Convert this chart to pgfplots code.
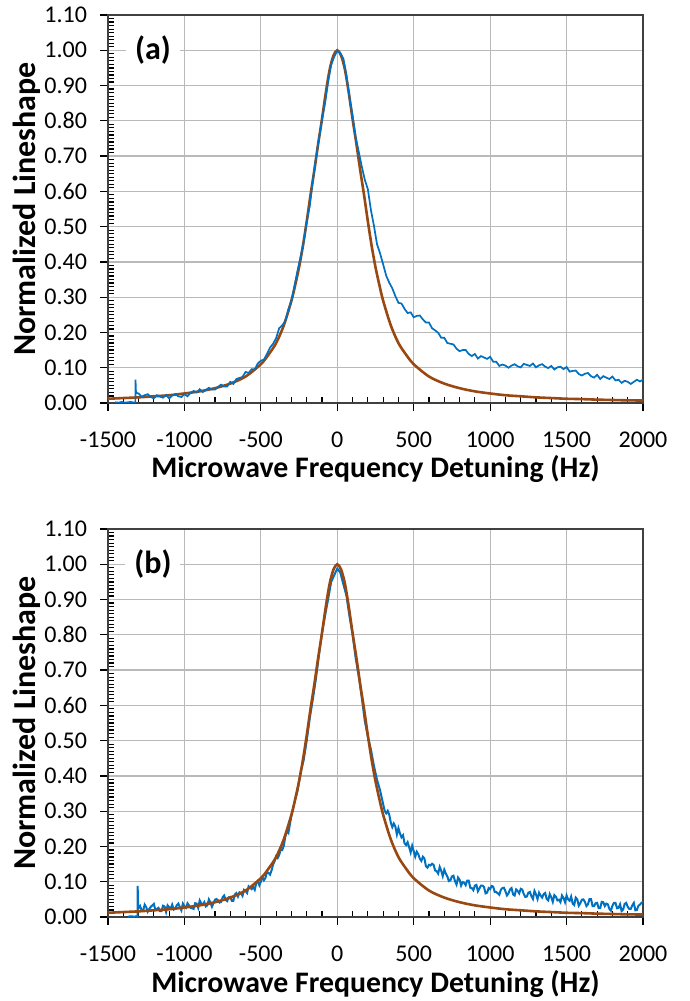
\documentclass[border=0pt]{standalone}
\usepackage{fontspec}
\setmainfont{Carlito}
\usepackage{pgfplots}
\pgfplotsset{compat=1.18}
\definecolor{dblue}{RGB}{0,112,192}
\definecolor{fitbrown}{RGB}{153,72,18}
\definecolor{gridgray}{RGB}{185,185,185}
\pgfplotsset{
 lsaxis/.style={
  scale only axis, width=267.5pt, height=194pt, anchor=south west,
  xmin=-1500, xmax=2000, ymin=0, ymax=1.1,
  xtick={-1500,-1000,-500,0,500,1000,1500,2000},
  ytick={0,0.1,0.2,0.3,0.4,0.5,0.6,0.7,0.8,0.9,1.0,1.1},
  minor x tick num=4, minor y tick num=9,
  grid=major, major grid style={gridgray, line width=0.6pt},
  tick align=outside, major tick length=4pt, minor tick length=3pt,
  xtick pos=bottom, ytick pos=left,
  minor x tick style={yshift=3pt}, minor y tick style={xshift=3pt},
  tick style={black, line width=0.6pt},
  axis line style={black!75, line width=0.8pt},
  /pgf/number format/assume math mode=true,
  ticklabel style={font=\fontsize{12}{14}\selectfont},
  xticklabel style={yshift=-7pt, /pgf/number format/.cd, 1000 sep={}},
  yticklabel style={xshift=-3pt, /pgf/number format/.cd, fixed, fixed zerofill, precision=2},
  xlabel={Microwave Frequency Detuning (Hz)},
  ylabel={Normalized Lineshape},
  xlabel style={at={(axis description cs:0.5,-0.1933)}, anchor=base, font=\fontsize{14.9}{17}\selectfont\bfseries},
  ylabel style={at={(axis description cs:-0.1364,0.5)}, anchor=base, font=\fontsize{16}{18}\selectfont\bfseries},
  clip=true,
 },
 bluedata/.style={dblue, line width=0.85pt, no markers},
 fitline/.style={fitbrown, line width=1.3pt, no markers, smooth, tension=0.5},
}
\pgfplotstableread{
x y
-1500 0.012
-1400 0.014
-1300 0.016
-1200 0.019
-1100 0.022
-1000 0.027
-900 0.033
-800 0.042
-700 0.055
-600 0.075
-500 0.11
-450 0.137
-400 0.17
-350 0.22
-300 0.29
-275 0.335
-250 0.385
-225 0.445
-200 0.515
-175 0.59
-150 0.66
-125 0.735
-100 0.805
-75 0.88
-50 0.945
-25 0.985
0 1.0
25 0.985
50 0.945
75 0.88
100 0.805
125 0.735
150 0.66
175 0.59
200 0.515
225 0.445
250 0.385
275 0.335
300 0.29
350 0.22
400 0.17
450 0.137
500 0.11
600 0.075
700 0.055
800 0.042
900 0.033
1000 0.027
1100 0.022
1200 0.019
1300 0.016
1400 0.014
1500 0.012
1600 0.011
1700 0.0095
1800 0.0085
1900 0.0075
2000 0.007
}\fittable
\pgfplotstableread{
x y
-1454 0.002
-1430 0.001
-1410 0.003
-1390 0.001
-1370 0.002
-1350 0.003
-1330 0.001
-1321 0.002
-1320 0.066
-1317 0.030
-1310 0.028
-1300 0.027
-1280 0.018
-1260 0.022
-1240 0.025
-1220 0.017
-1200 0.013
-1180 0.022
-1160 0.018
-1140 0.015
-1120 0.023
-1100 0.013
-1080 0.021
-1060 0.025
-1040 0.019
-1020 0.017
-1000 0.025
-980 0.019
-960 0.029
-940 0.034
-920 0.030
-900 0.039
-880 0.031
-860 0.037
-840 0.043
-820 0.038
-800 0.038
-780 0.046
-760 0.052
-740 0.047
-720 0.047
-700 0.060
-680 0.054
-660 0.068
-640 0.071
-620 0.074
-600 0.088
-580 0.085
-560 0.096
-540 0.095
-520 0.112
-500 0.120
-480 0.123
-460 0.139
-440 0.157
-420 0.168
-400 0.184
-380 0.212
-360 0.220
-340 0.232
-320 0.265
-300 0.290
-280 0.332
-260 0.376
-240 0.414
-220 0.456
-200 0.513
-180 0.559
-160 0.631
-140 0.694
-120 0.748
-100 0.805
-80 0.850
-60 0.910
-40 0.959
-20 0.982
0 0.998
20 0.992
40 0.976
60 0.929
80 0.866
100 0.815
120 0.754
140 0.713
160 0.671
180 0.633
200 0.606
220 0.547
240 0.502
260 0.450
280 0.424
300 0.393
320 0.361
340 0.341
360 0.325
380 0.303
400 0.284
420 0.282
440 0.267
460 0.255
480 0.257
500 0.243
520 0.247
540 0.248
560 0.237
580 0.228
600 0.228
620 0.212
640 0.206
660 0.199
680 0.185
700 0.185
720 0.170
740 0.168
760 0.166
780 0.154
800 0.147
820 0.150
840 0.150
860 0.139
880 0.133
900 0.139
920 0.126
940 0.133
960 0.129
980 0.125
1000 0.131
1020 0.117
1040 0.117
1060 0.105
1080 0.109
1100 0.106
1120 0.100
1140 0.106
1160 0.110
1180 0.104
1200 0.101
1220 0.111
1240 0.108
1260 0.105
1280 0.112
1300 0.101
1320 0.107
1340 0.110
1360 0.103
1380 0.099
1400 0.105
1420 0.095
1440 0.101
1460 0.103
1480 0.096
1500 0.102
1520 0.089
1540 0.091
1560 0.092
1580 0.082
1600 0.078
1620 0.083
1640 0.085
1660 0.076
1680 0.072
1700 0.080
1720 0.068
1740 0.076
1760 0.072
1780 0.068
1800 0.075
1820 0.064
1840 0.066
1860 0.057
1880 0.063
1900 0.060
1920 0.054
1940 0.060
1960 0.066
1980 0.061
2000 0.066
}\bluea
\pgfplotstableread{
x y
-1369 0.001
-1350 0.002
-1330 0.001
-1310 0.002
-1307 0.001
-1306 0.088
-1303 0.036
-1300 0.025
-1290 0.031
-1280 0.019
-1270 0.018
-1260 0.035
-1250 0.028
-1240 0.015
-1230 0.023
-1220 0.029
-1210 0.033
-1200 0.037
-1190 0.020
-1180 0.023
-1170 0.026
-1160 0.017
-1150 0.017
-1140 0.032
-1130 0.030
-1120 0.014
-1110 0.033
-1100 0.028
-1090 0.024
-1080 0.035
-1070 0.021
-1060 0.024
-1050 0.033
-1040 0.038
-1030 0.028
-1020 0.019
-1010 0.038
-1000 0.030
-990 0.026
-980 0.039
-970 0.033
-960 0.026
-950 0.025
-940 0.023
-930 0.039
-920 0.038
-910 0.026
-900 0.047
-890 0.039
-880 0.035
-870 0.042
-860 0.030
-850 0.033
-840 0.050
-830 0.041
-820 0.029
-810 0.039
-800 0.049
-790 0.051
-780 0.047
-770 0.041
-760 0.043
-750 0.056
-740 0.061
-730 0.048
-720 0.045
-710 0.056
-700 0.057
-690 0.046
-680 0.046
-670 0.064
-660 0.068
-650 0.058
-640 0.070
-630 0.068
-620 0.060
-610 0.077
-600 0.074
-590 0.068
-580 0.087
-570 0.083
-560 0.079
-550 0.085
-540 0.077
-530 0.096
-520 0.102
-510 0.090
-500 0.100
-490 0.113
-480 0.104
-470 0.111
-460 0.128
-450 0.125
-440 0.120
-430 0.132
-420 0.149
-410 0.158
-400 0.172
-390 0.167
-380 0.176
-370 0.192
-360 0.190
-350 0.202
-340 0.228
-330 0.243
-320 0.238
-310 0.263
-300 0.286
-280 0.324
-260 0.358
-240 0.410
-220 0.445
-200 0.500
-180 0.564
-160 0.617
-140 0.675
-120 0.742
-100 0.806
-80 0.854
-60 0.901
-40 0.950
-20 0.969
0 0.988
20 0.976
40 0.943
60 0.911
80 0.852
100 0.802
120 0.735
140 0.684
160 0.623
180 0.556
200 0.511
220 0.475
240 0.428
260 0.389
280 0.359
300 0.320
310 0.301
320 0.294
330 0.301
340 0.290
350 0.268
360 0.255
370 0.265
380 0.256
390 0.234
400 0.252
410 0.237
420 0.226
430 0.232
440 0.209
450 0.204
460 0.212
470 0.198
480 0.183
490 0.202
500 0.187
510 0.171
520 0.185
530 0.178
540 0.165
550 0.159
560 0.171
570 0.166
580 0.144
590 0.140
600 0.148
610 0.146
620 0.151
630 0.148
640 0.132
650 0.130
660 0.123
670 0.142
680 0.131
690 0.116
700 0.134
710 0.123
720 0.115
730 0.102
740 0.104
750 0.115
760 0.117
770 0.102
780 0.092
790 0.112
800 0.106
810 0.089
820 0.099
830 0.097
840 0.090
850 0.103
860 0.103
870 0.083
880 0.082
890 0.076
900 0.089
910 0.091
920 0.073
930 0.081
940 0.089
950 0.089
960 0.085
970 0.067
980 0.069
990 0.082
1000 0.079
1010 0.088
1020 0.086
1030 0.071
1040 0.071
1050 0.067
1060 0.063
1070 0.077
1080 0.082
1090 0.083
1100 0.073
1110 0.061
1120 0.067
1130 0.078
1140 0.082
1150 0.064
1160 0.061
1170 0.078
1180 0.074
1190 0.067
1200 0.080
1210 0.078
1220 0.065
1230 0.057
1240 0.058
1250 0.069
1260 0.071
1270 0.059
1280 0.051
1290 0.074
1300 0.064
1310 0.051
1320 0.069
1330 0.061
1340 0.055
1350 0.065
1360 0.068
1370 0.051
1380 0.047
1390 0.065
1400 0.056
1410 0.043
1420 0.062
1430 0.058
1440 0.047
1450 0.049
1460 0.042
1470 0.061
1480 0.054
1490 0.042
1500 0.061
1510 0.050
1520 0.046
1530 0.058
1540 0.038
1550 0.034
1560 0.055
1570 0.050
1580 0.032
1590 0.039
1600 0.049
1610 0.050
1620 0.043
1630 0.031
1640 0.036
1650 0.051
1660 0.051
1670 0.031
1680 0.031
1690 0.039
1700 0.040
1710 0.025
1720 0.025
1730 0.043
1740 0.042
1750 0.031
1760 0.038
1770 0.036
1780 0.023
1790 0.018
1800 0.032
1810 0.040
1820 0.040
1830 0.025
1840 0.026
1850 0.036
1860 0.017
1870 0.021
1880 0.037
1890 0.040
1900 0.029
1910 0.023
1920 0.023
1930 0.033
1940 0.040
1950 0.019
1960 0.020
1970 0.032
1980 0.035
1990 0.040
2000 0.043
}\blueb
\begin{document}
\begin{tikzpicture}
\path[use as bounding box] (0,0) rectangle (345pt,500.5pt);
\begin{axis}[lsaxis, at={(54pt,299pt)}]
\addplot[fitline] table[x=x,y=y] {\fittable};
\addplot[bluedata] table[x=x,y=y] {\bluea};
\node[fill=white, inner xsep=4.5pt, inner ysep=1pt, font=\fontsize{16}{18}\selectfont\bfseries] at (axis cs:-1206,1.0) {(a)};
\end{axis}
\begin{axis}[lsaxis, at={(54pt,42pt)}]
\addplot[bluedata, line width=1pt] table[x=x,y=y] {\blueb};
\addplot[fitline] table[x=x,y=y] {\fittable};
\node[fill=white, inner xsep=4.5pt, inner ysep=1pt, font=\fontsize{16}{18}\selectfont\bfseries] at (axis cs:-1206,1.0) {(b)};
\end{axis}
\end{tikzpicture}
\end{document}
